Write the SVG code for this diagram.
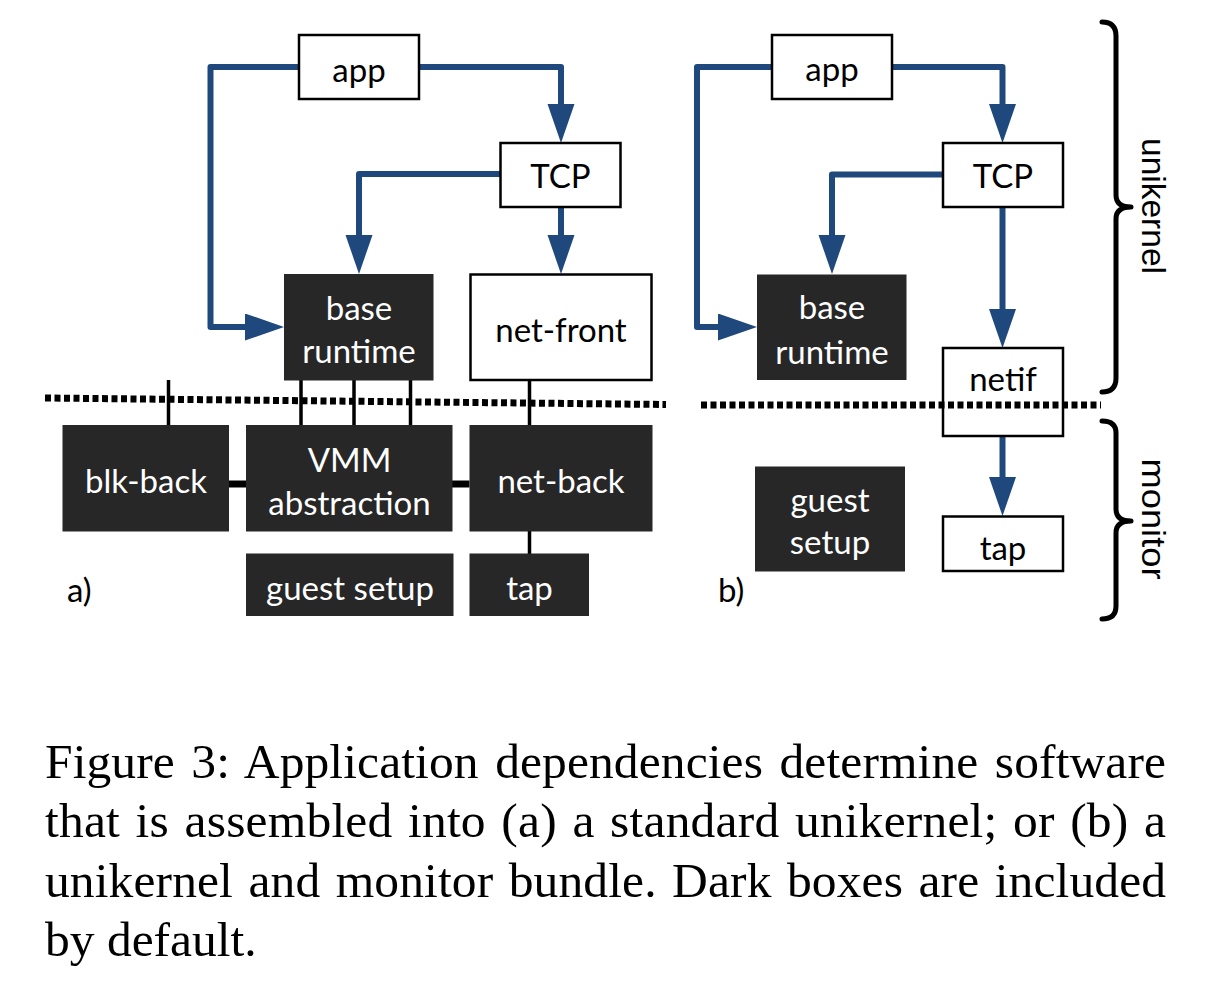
<svg xmlns="http://www.w3.org/2000/svg" width="1209" height="993" viewBox="0 0 1209 993">
<style>
.wb{fill:#fff;stroke:#000;stroke-width:2.5}
.db{fill:#272727;stroke:none}
.lb{font-family:Lato,"Open Sans","Liberation Sans",sans-serif;font-size:33px;text-anchor:middle}
.lk{fill:#000}
.lw{fill:#fff}
.side{font-family:"Liberation Sans",Arial,sans-serif;font-size:34px;fill:#000;text-anchor:middle}
.blue{fill:none;stroke:#1F497D;stroke-width:6;stroke-linejoin:round;marker-end:url(#ah)}
.blk{fill:none;stroke:#000;stroke-width:3.5}
.thick{fill:none;stroke:#000;stroke-width:7}
.dots{fill:none;stroke:#000;stroke-width:7;stroke-dasharray:6 3.5}
.brace{fill:none;stroke:#000;stroke-width:5;stroke-linecap:round;stroke-linejoin:round}
.cap{font-family:"Liberation Serif","Times New Roman",serif;font-size:49.5px;fill:#000}
</style>
<defs>
<marker id="ah" markerUnits="userSpaceOnUse" markerWidth="40" markerHeight="28" refX="0" refY="13.5" orient="auto">
<path d="M0,0 L39,13.5 L0,27 Z" fill="#1F497D"/>
</marker>
</defs>

<g id="connectors">
<path class="blue" d="M299,67 H210.5 V327 H245"/>
<path class="blue" d="M419,67 H561 V104"/>
<path class="blue" d="M500,174 H359 V235"/>
<path class="blue" d="M561,207 V235"/>
<path class="blue" d="M772,67 H697 V327 H718"/>
<path class="blue" d="M892,67 H1002.5 V104"/>
<path class="blue" d="M943,174.5 H832 V235"/>
<path class="blue" d="M1002.5,207 V309"/>
<path class="blue" d="M1002.5,436 V477"/>
<path class="blk" d="M168.5,380 V425"/>
<path class="blk" d="M301,380 V425"/>
<path class="blk" d="M354,380 V425"/>
<path class="blk" d="M410.5,380 V425"/>
<path class="blk" d="M529.5,380 V425"/>
<path class="blk" d="M529.5,531 V554"/>
<path class="thick" d="M229,484 H246"/>
<path class="thick" d="M452,484 H469.5"/>
</g>

<g id="a-app"><rect class="wb" x="299" y="35" width="120" height="64"/><text class="lb lk" x="359" y="82">app</text></g>
<g id="a-tcp"><rect class="wb" x="500.5" y="143" width="120" height="64"/><text class="lb lk" x="560.5" y="188">TCP</text></g>
<g id="a-base"><rect class="db" x="284" y="274" width="149.5" height="106.5"/><text class="lb lw" x="359" y="320">base</text><text class="lb lw" x="359" y="363">runtime</text></g>
<g id="a-netfront"><rect class="wb" x="470.5" y="274.5" width="181" height="105.5"/><text class="lb lk" x="561" y="342">net-front</text></g>
<g id="a-blkback"><rect class="db" x="62.5" y="425" width="166.5" height="106.5"/><text class="lb lw" x="146" y="493">blk-back</text></g>
<g id="a-vmm"><rect class="db" x="246" y="425" width="206.5" height="106.5"/><text class="lb lw" x="349.5" y="472">VMM</text><text class="lb lw" x="349.5" y="515">abstraction</text></g>
<g id="a-netback"><rect class="db" x="469.5" y="425" width="183" height="106.5"/><text class="lb lw" x="561" y="493">net-back</text></g>
<g id="a-guest"><rect class="db" x="246" y="553.5" width="207.5" height="62.5"/><text class="lb lw" x="350" y="600">guest setup</text></g>
<g id="a-tap"><rect class="db" x="469.5" y="553.5" width="119.5" height="62.5"/><text class="lb lw" x="529.5" y="600">tap</text></g>
<g id="a-label"><text class="lb lk" x="67" y="602" style="text-anchor:start">a)</text></g>

<g id="b-app"><rect class="wb" x="772" y="35" width="120" height="64"/><text class="lb lk" x="832" y="81">app</text></g>
<g id="b-tcp"><rect class="wb" x="943" y="143" width="120" height="64"/><text class="lb lk" x="1003" y="188">TCP</text></g>
<g id="b-base"><rect class="db" x="757" y="274.5" width="149.5" height="105.5"/><text class="lb lw" x="832" y="318.5">base</text><text class="lb lw" x="832" y="363.5">runtime</text></g>
<g id="b-netif"><rect class="wb" x="943" y="348" width="120" height="88"/><text class="lb lk" x="1003" y="391">netif</text></g>
<g id="b-guest"><rect class="db" x="755" y="466.5" width="150" height="105"/><text class="lb lw" x="830" y="512">guest</text><text class="lb lw" x="830" y="554">setup</text></g>
<g id="b-tap"><rect class="wb" x="943" y="516.5" width="120" height="54.5"/><text class="lb lk" x="1003" y="560">tap</text></g>
<g id="b-label"><text class="lb lk" x="718" y="602" style="text-anchor:start">b)</text></g>

<g id="separators">
<path class="dots" d="M45,398 L666,404.5"/>
<path class="dots" d="M701,405 H1101"/>
</g>

<g id="brace-unikernel">
<path class="brace" d="M1102,22 Q1116,22 1116,36 V195 Q1116,207 1131,207 Q1116,207 1116,219 V378 Q1116,392 1102,392"/>
<text class="side" transform="translate(1142,206) rotate(90)" textLength="136" lengthAdjust="spacingAndGlyphs">unikernel</text>
</g>
<g id="brace-monitor">
<path class="brace" d="M1102,421 Q1116,421 1116,433 V509 Q1116,521 1131,521 Q1116,521 1116,533 V606 Q1116,619 1102,619"/>
<text class="side" transform="translate(1142,519) rotate(90)" textLength="121" lengthAdjust="spacingAndGlyphs">monitor</text>
</g>

<g id="caption">
<text class="cap" x="45" y="778" textLength="1121" lengthAdjust="spacing" word-spacing="4">Figure 3: Application dependencies determine software</text>
<text class="cap" x="45" y="837" textLength="1121" lengthAdjust="spacing" word-spacing="3">that is assembled into (a) a standard unikernel; or (b) a</text>
<text class="cap" x="45" y="897" textLength="1121" lengthAdjust="spacing" word-spacing="3">unikernel and monitor bundle. Dark boxes are included</text>
<text class="cap" x="45" y="956">by default.</text>
</g>
</svg>
